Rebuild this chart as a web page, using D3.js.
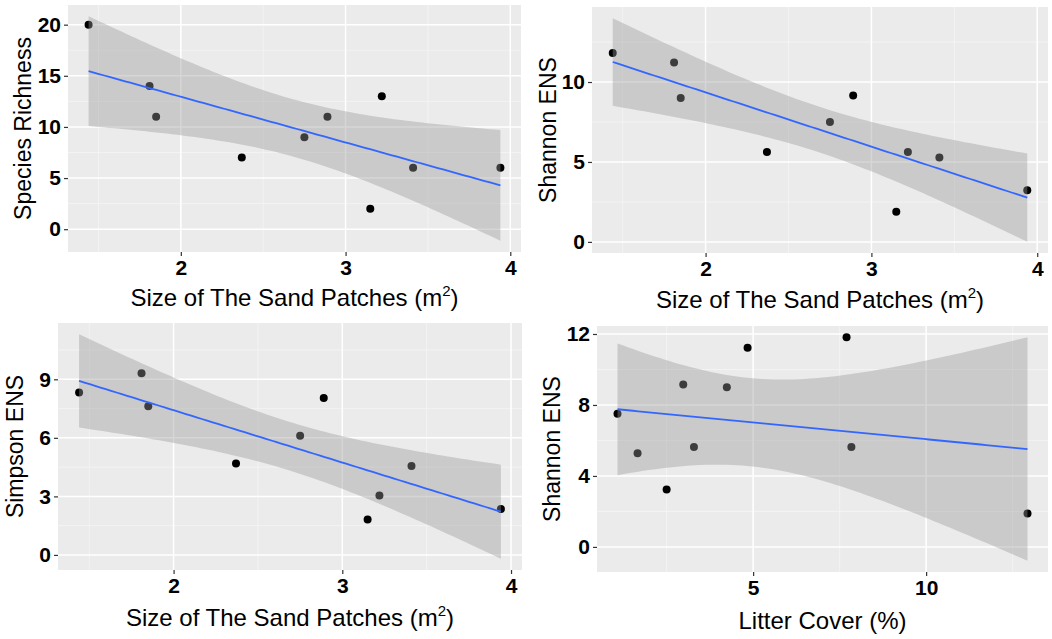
<!DOCTYPE html>
<html>
<head>
<meta charset="utf-8">
<script src="https://cdn.jsdelivr.net/npm/d3@7"></script>
<style>
  body { margin: 0; background: #fff; }
  svg { display: block; font-family: "Liberation Sans", Arial, sans-serif; }
</style>
</head>
<body>
<div id="chart"></div>
<script>
// ten sand patches, same order in every array
const sandSize = [1.44, 1.81, 1.85, 2.37, 2.75, 2.89, 3.22, 3.15, 3.41, 3.94];
const litterCover = [7.70, 4.84, 4.24, 3.29, 1.08, 2.98, 7.84, 12.93, 1.66, 2.50];
const richness = [20, 14, 11, 7, 9, 11, 13, 2, 6, 6];
const shannon = [11.82, 11.22, 9.0, 5.63, 7.5, 9.15, 5.63, 1.88, 5.28, 3.23];
const simpson = [8.32, 9.31, 7.62, 4.68, 6.11, 8.04, 3.04, 1.81, 4.56, 2.36];

const sandTicks = [2, 3, 4];
const litterTicks = [5, 10];
const richnessTicks = [0, 5, 10, 15, 20];
const shannonTicks = [0, 5, 10];
const simpsonTicks = [0, 3, 6, 9];
const shannonTicks2 = [0, 4, 8, 12];

const W = 1052, H = 639;
const T975 = 2.306; // t quantile, df = 8

const svg = d3.select("#chart").append("svg")
  .attr("width", W)
  .attr("height", H);

// linear fit with 95% confidence band (like geom_smooth(method = "lm"))
function fitLm(xs, ys) {
  const n = xs.length;
  const mx = d3.mean(xs), my = d3.mean(ys);
  const sxx = d3.sum(xs, x => (x - mx) ** 2);
  const sxy = d3.sum(xs, (x, i) => (x - mx) * (ys[i] - my));
  const b = sxy / sxx, a = my - b * mx;
  const s = Math.sqrt(d3.sum(xs, (x, i) => (ys[i] - a - b * x) ** 2) / (n - 2));
  const [x0, x1] = d3.extent(xs);
  return d3.range(80).map(i => {
    const x = x0 + (x1 - x0) * i / 79;
    const fit = a + b * x;
    const se = s * Math.sqrt(1 / n + (x - mx) ** 2 / sxx);
    return { x, fit, lo: fit - T975 * se, hi: fit + T975 * se };
  });
}

function expand(lo, hi) {
  const pad = (hi - lo) * 0.05;
  return [lo - pad, hi + pad];
}

function drawPanel(p) {
  const band = fitLm(p.xs, p.ys);
  const xDom = expand(...d3.extent(p.xs));
  const yDom = expand(
    Math.min(d3.min(p.ys), d3.min(band, d => d.lo)),
    Math.max(d3.max(p.ys), d3.max(band, d => d.hi))
  );
  const x = d3.scaleLinear().domain(xDom).range([p.left, p.right]);
  const y = d3.scaleLinear().domain(yDom).range([p.bottom, p.top]);
  const g = svg.append("g");

  g.append("rect")
    .attr("x", p.left).attr("y", p.top)
    .attr("width", p.right - p.left).attr("height", p.bottom - p.top)
    .attr("fill", "#ebebeb");

  // minor grid halfway between majors
  const step = (t) => t[1] - t[0];
  const xMinor = d3.range(p.xTicks[0] - step(p.xTicks) / 2, xDom[1], step(p.xTicks)).filter(v => v > xDom[0]);
  const yMinor = d3.range(p.yTicks[0] - step(p.yTicks) / 2, yDom[1], step(p.yTicks)).filter(v => v > yDom[0]);

  g.selectAll(".xminor").data(xMinor).join("line")
    .attr("x1", d => x(d)).attr("x2", d => x(d))
    .attr("y1", p.top).attr("y2", p.bottom)
    .attr("stroke", "#f5f5f5").attr("stroke-width", 0.8);
  g.selectAll(".yminor").data(yMinor).join("line")
    .attr("y1", d => y(d)).attr("y2", d => y(d))
    .attr("x1", p.left).attr("x2", p.right)
    .attr("stroke", "#f5f5f5").attr("stroke-width", 0.8);
  g.selectAll(".xmajor").data(p.xTicks).join("line")
    .attr("x1", d => x(d)).attr("x2", d => x(d))
    .attr("y1", p.top).attr("y2", p.bottom)
    .attr("stroke", "#fff").attr("stroke-width", 1.5);
  g.selectAll(".ymajor").data(p.yTicks).join("line")
    .attr("y1", d => y(d)).attr("y2", d => y(d))
    .attr("x1", p.left).attr("x2", p.right)
    .attr("stroke", "#fff").attr("stroke-width", 1.5);

  // points first, ribbon drawn over them
  g.selectAll(".pt").data(p.xs).join("circle")
    .attr("cx", d => x(d))
    .attr("cy", (d, i) => y(p.ys[i]))
    .attr("r", 4)
    .attr("fill", "#000");

  g.append("path")
    .datum(band)
    .attr("fill", "#999999")
    .attr("fill-opacity", 0.4)
    .attr("d", d3.area().x(d => x(d.x)).y0(d => y(d.lo)).y1(d => y(d.hi)));

  g.append("path")
    .datum(band)
    .attr("fill", "none")
    .attr("stroke", "#3366ff")
    .attr("stroke-width", 1.8)
    .attr("d", d3.line().x(d => x(d.x)).y(d => y(d.fit)));

  // axes
  const xAxis = g.append("g")
    .attr("transform", `translate(0,${p.bottom})`)
    .call(d3.axisBottom(x).tickValues(p.xTicks).tickSize(4).tickPadding(4).tickFormat(d3.format("d")));
  const yAxis = g.append("g")
    .attr("transform", `translate(${p.left},0)`)
    .call(d3.axisLeft(y).tickValues(p.yTicks).tickSize(4).tickPadding(3).tickFormat(d3.format("d")));
  [xAxis, yAxis].forEach(a => {
    a.select(".domain").remove();
    a.selectAll("line").attr("stroke", "#333").attr("stroke-width", 1.2);
    a.selectAll("text")
      .attr("fill", "#000")
      .style("font-family", "'Liberation Sans', Arial, sans-serif")
      .style("font-size", "21px")
      .style("font-weight", "bold");
  });

  // axis titles
  const xt = g.append("text")
    .attr("x", (p.left + p.right) / 2)
    .attr("y", p.xTitleY)
    .attr("text-anchor", "middle")
    .style("font-size", "24px")
    .text(p.xTitle);
  if (p.sup) {
    xt.append("tspan").attr("dy", -10).style("font-size", "15px").text("2");
    xt.append("tspan").attr("dy", 10).text(")");
  }
  g.append("text")
    .attr("transform", `translate(${p.yTitleX},${(p.top + p.bottom) / 2}) rotate(-90)`)
    .attr("text-anchor", "middle")
    .attr("dy", "0.35em")
    .style("font-size", "23px")
    .text(p.yTitle);
}

const panels = [
  { xs: sandSize, ys: richness, xTicks: sandTicks, yTicks: richnessTicks,
    left: 68, right: 521, top: 5, bottom: 252, xTitleY: 306, yTitleX: 23,
    xTitle: "Size of The Sand Patches (m", sup: true, yTitle: "Species Richness" },
  { xs: sandSize, ys: shannon, xTicks: sandTicks, yTicks: shannonTicks,
    left: 592, right: 1048, top: 7, bottom: 253, xTitleY: 308, yTitleX: 548,
    xTitle: "Size of The Sand Patches (m", sup: true, yTitle: "Shannon ENS" },
  { xs: sandSize, ys: simpson, xTicks: sandTicks, yTicks: simpsonTicks,
    left: 58, right: 522, top: 323, bottom: 570, xTitleY: 626, yTitleX: 15,
    xTitle: "Size of The Sand Patches (m", sup: true, yTitle: "Simpson ENS" },
  { xs: litterCover, ys: shannon, xTicks: litterTicks, yTicks: shannonTicks2,
    left: 597, right: 1048, top: 326, bottom: 572, xTitleY: 629, yTitleX: 552,
    xTitle: "Litter Cover (%)", sup: false, yTitle: "Shannon ENS" }
];

panels.forEach(drawPanel);
</script>
</body>
</html>
